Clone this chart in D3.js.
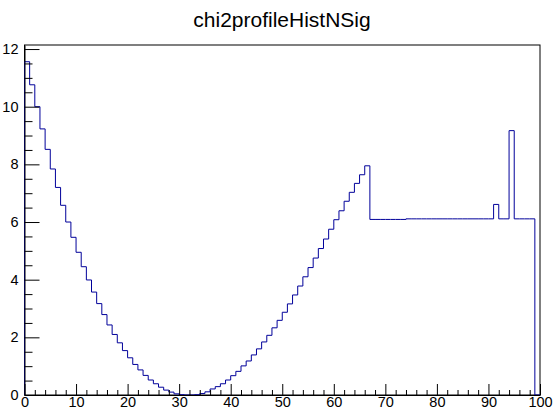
<!DOCTYPE html>
<html><head><meta charset="utf-8">
<script src="https://cdn.jsdelivr.net/npm/d3@7"></script>
<style>body{margin:0;background:#fff}svg{display:block}text{font-family:"Liberation Sans",Arial,Helvetica,sans-serif}</style>
</head><body>
<script>
const title = "chi2profileHistNSig";
const binEdgesLow = 0, binEdgesHigh = 100, nBins = 100;
const binValues = [
 11.56,10.76,10.00,9.23,8.52,7.84,7.20,6.58,6.00,5.47,
 4.95,4.45,3.99,3.57,3.17,2.79,2.43,2.10,1.81,1.54,
 1.29,1.06,0.87,0.68,0.52,0.39,0.27,0.17,0.10,0.04,
 0.01,0.00,0.00,0.01,0.05,0.11,0.21,0.29,0.39,0.52,
 0.67,0.82,1.01,1.18,1.39,1.60,1.84,2.07,2.33,2.59,
 2.87,3.16,3.47,3.78,4.10,4.42,4.75,5.08,5.41,5.75,
 6.08,6.39,6.72,7.03,7.34,7.64,7.95,6.09,6.09,6.09,
 6.09,6.09,6.09,6.09,6.11,6.11,6.11,6.11,6.11,6.11,
 6.11,6.11,6.11,6.11,6.11,6.11,6.11,6.11,6.11,6.11,
 6.11,6.61,6.11,6.11,9.17,6.11,6.11,6.11,6.11,0.00
];
const xMajorTicks = [0,10,20,30,40,50,60,70,80,90,100];
const yMajorTicks = [0,2,4,6,8,10,12];
const yMax = 12.14;

const W = 553, H = 411;
const svg = d3.select("body").append("svg").attr("width", W).attr("height", H);
const x = d3.scaleLinear().domain([binEdgesLow, binEdgesHigh]).range([24.5, 540]);
const y = d3.scaleLinear().domain([0, yMax]).range([395, 45]);
const bw = (binEdgesHigh - binEdgesLow) / nBins;

// frame
svg.append("rect").attr("x", x(0)).attr("y", y(yMax)).attr("width", x(100)-x(0)).attr("height", y(0)-y(yMax))
  .attr("fill", "none").attr("stroke", "#000").attr("stroke-width", 1);

// histogram steps
const pts = [[x(binEdgesLow), y(0)]];
binValues.forEach((v, i) => {
  const x0 = binEdgesLow + i*bw;
  pts.push([x(x0), y(v)]);
  pts.push([x(x0+bw), y(v)]);
});
pts.push([x(binEdgesHigh), y(0)]);
svg.append("path").attr("d", d3.line()(pts)).attr("fill", "none")
  .attr("stroke", "#00009a").attr("stroke-width", 1);

// x minor ticks
const xMinor = d3.range(0, 101, 2).filter(v => v % 10 !== 0);
svg.append("g").attr("transform", `translate(0,${y(0)})`)
  .call(d3.axisBottom(x).tickValues(xMinor).tickSizeInner(-5).tickSizeOuter(0).tickFormat(""))
  .call(g => g.select(".domain").remove());
// x major
svg.append("g").attr("transform", `translate(0,${y(0)})`)
  .call(d3.axisBottom(x).tickValues(xMajorTicks).tickSizeInner(-11).tickSizeOuter(0).tickPadding(2).tickFormat(d3.format("d")))
  .call(g => g.selectAll("text").attr("font-size", "14.5px").attr("fill", "#000").style("font-family", "Liberation Sans, Arial, sans-serif"))
  .call(g => g.select(".domain").attr("stroke", "#000"));

// y minor
const yMinor = d3.range(0, 12.01, 0.5).filter(v => v % 2 !== 0);
svg.append("g").attr("transform", `translate(${x(0)},0)`)
  .call(d3.axisLeft(y).tickValues(yMinor).tickSizeInner(-8).tickSizeOuter(0).tickFormat(""))
  .call(g => g.select(".domain").remove());
// y major
svg.append("g").attr("transform", `translate(${x(0)},0)`)
  .call(d3.axisLeft(y).tickValues(yMajorTicks).tickSizeInner(-15).tickSizeOuter(0).tickPadding(6).tickFormat(d3.format("d")))
  .call(g => g.selectAll("text").attr("font-size", "14.5px").attr("fill", "#000").style("font-family", "Liberation Sans, Arial, sans-serif"))
  .call(g => g.select(".domain").attr("stroke", "#000"));

// title
svg.append("text").attr("x", 282).attr("y", 27).attr("text-anchor", "middle")
  .attr("font-size", "21px").attr("fill", "#000").text(title);
</script>
</body></html>
